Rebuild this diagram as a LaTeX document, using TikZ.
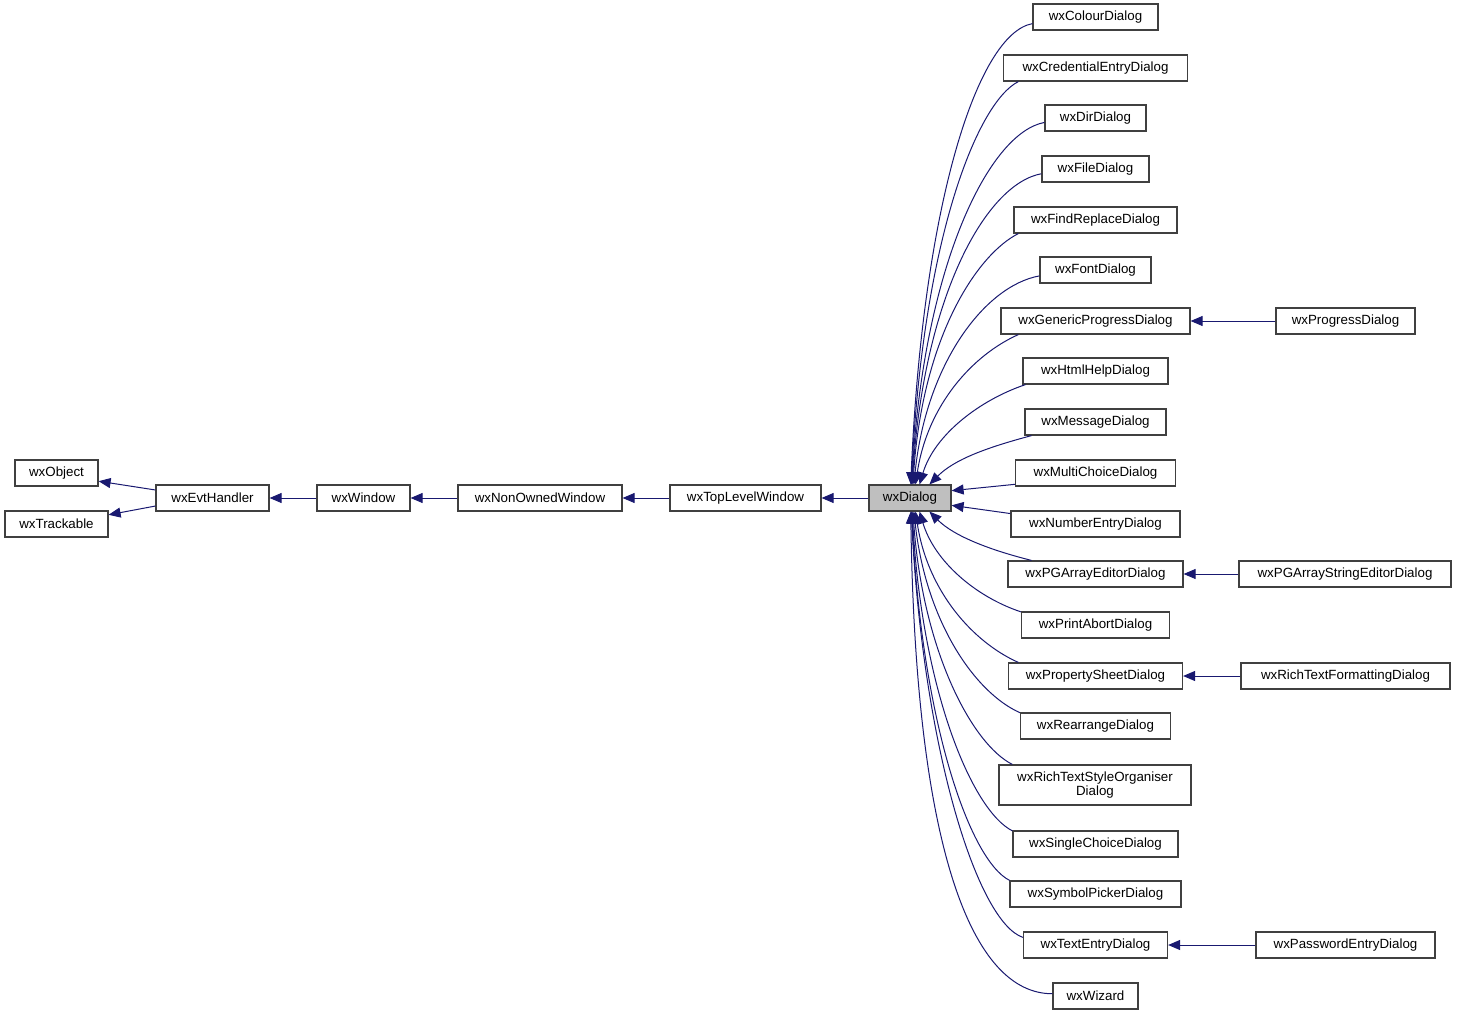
\documentclass[tikz,border=0pt]{standalone}
\usepackage{fontspec}
\setmainfont{Liberation Sans}
\usetikzlibrary{arrows.meta, positioning}
\definecolor{edgeblue}{HTML}{191970}
\definecolor{boxgrey}{HTML}{404040}
\definecolor{focusgrey}{HTML}{BFBFBF}

\begin{document}
\begin{tikzpicture}[x=0.75pt, y=-0.75pt, font=\fontsize{10pt}{10.5pt}\selectfont,
    cls/.style={draw=boxgrey, line width=0.9pt, fill=white, minimum height=19.5pt, inner sep=0pt},
    bw/.style={minimum width=#1*0.75pt},
    inh/.style={draw=edgeblue, line width=0.75pt, -{Triangle[length=9pt, width=7.5pt]}}]
        \useasboundingbox (0,0) rectangle (1457,1018);
        % Base classes
        \node[cls, bw=83] (obj) at (56.5,473) {wxObject};
        \node[cls, bw=103] (track) at (56.5,524) {wxTrackable};
        \node[cls, bw=113] (evt) at (212.5,498) {wxEvtHandler};
        \node[cls, bw=93] (win) at (363.5,498) {wxWindow};
        \node[cls, bw=164] (now) at (540,498) {wxNonOwnedWindow};
        \node[cls, bw=151] (tlw) at (745.5,498) {wxTopLevelWindow};
        \node[cls, bw=82, fill=focusgrey] (dlg) at (910,498) {wxDialog};

        % Derived dialogs
        \foreach \n/\t/\y/\w in {colour/wxColourDialog/17/125, cred/wxCredentialEntryDialog/68/184,
            dir/wxDirDialog/118/101, file/wxFileDialog/169/107, find/wxFindReplaceDialog/220/163,
            font/wxFontDialog/270/111, gen/wxGenericProgressDialog/321/189, html/wxHtmlHelpDialog/371/145,
            msg/wxMessageDialog/422/141, multi/wxMultiChoiceDialog/473/160, num/wxNumberEntryDialog/524/169,
            pgarr/wxPGArrayEditorDialog/574/175, abort/wxPrintAbortDialog/625/148,
            psheet/wxPropertySheetDialog/676/174, rearr/wxRearrangeDialog/726/150,
            single/wxSingleChoiceDialog/844/165, symbol/wxSymbolPickerDialog/894/171,
            text/wxTextEntryDialog/945/144, wizard/wxWizard/996/85}
            { \node[cls, bw=\w] (\n) at (1095.5,\y) {\t}; }
        \node[cls, bw=192, minimum height=30pt, align=center] (styleorg) at (1095,785) {wxRichTextStyleOrganiser\\Dialog};

        % Third level
        \node[cls, bw=139] (prog) at (1345.5,321) {wxProgressDialog};
        \node[cls, bw=212] (pgstr) at (1345,574) {wxPGArrayStringEditorDialog};
        \node[cls, bw=209] (rtfmt) at (1345.5,676) {wxRichTextFormattingDialog};
        \node[cls, bw=179] (pwd) at (1345.5,945) {wxPasswordEntryDialog};

        % Inheritance edges
        \draw[inh] (evt.172) -- (obj.349);
        \draw[inh] (evt.188) -- (track.10);
        \draw[inh] (win) -- (evt);
        \draw[inh] (now) -- (win);
        \draw[inh] (tlw) -- (now);
        \draw[inh] (dlg) -- (tlw);
        \draw[inh] (multi.188) -- (dlg.10);
        \draw[inh] (num.173) -- (dlg.350);
        \foreach \src/\sa/\da/\ux/\uy/\vx/\vy in {colour/186/87/-55/10/12/-280, cred/190/85/-40/20/12/-250,
            dir/185/83/-55/10/12/-220, file/185/81/-55/10/12/-190, find/190/78/-40/20/10/-150,
            font/186/74/-55/10/12/-120, gen/190/68/-45/20/12/-80, html/191/55/-45/15/15/-50,
            msg/192/35/-45/12/25/-25, pgarr/168/325/-40/-10/25/25, abort/170/305/-45/-15/15/50,
            psheet/170/292/-45/-20/12/80, rearr/170/286/-45/-20/12/110, styleorg/166/282/-40/-20/10/140,
            single/171/279/-40/-20/10/180, symbol/171/277/-40/-20/10/210, text/174/275/-45/-15/12/240,
            wizard/177/273/-80/0/5/340}
            { \draw[inh] (\src.\sa) .. controls +(\ux,\uy) and +(\vx,\vy) .. (dlg.\da); }
        \draw[inh] (prog) -- (gen);
        \draw[inh] (pgstr) -- (pgarr);
        \draw[inh] (rtfmt) -- (psheet);
        \draw[inh] (pwd) -- (text);
\end{tikzpicture}
\end{document}
